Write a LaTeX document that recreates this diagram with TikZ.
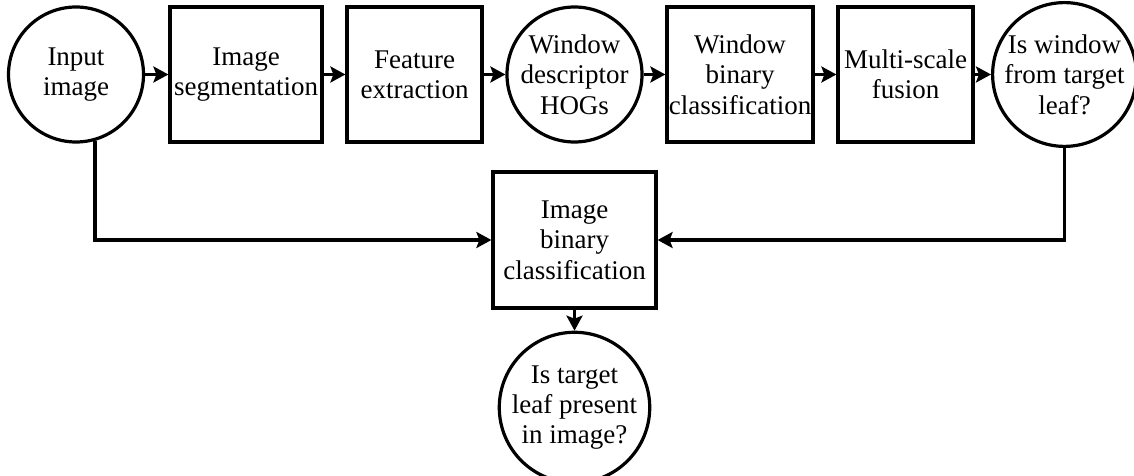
\documentclass[tikz,border=0pt]{standalone}
\usepackage{fontspec}
\setmainfont{Liberation Serif}
\usetikzlibrary{arrows.meta}

\begin{document}
\begin{tikzpicture}[x=0.5pt,y=-0.5pt,line width=1.6pt,
		every node/.style={font=\fontsize{13.5pt}{15.2pt}\selectfont,align=center,inner sep=0pt},
		stage/.style={draw,rectangle,minimum height=67.5pt},
		query/.style={draw,circle,minimum size=67.5pt},
		flow/.style={-{Stealth[length=7.5pt,width=8pt,inset=1.5pt]}}]
		
		\useasboundingbox (0,0) rectangle (1134,476);
		
		% top row
		\node[query] (inp) at (76,74.5) {Input\\image};
		\node[stage,minimum width=76pt] (seg) at (246,74.5) {Image\\segmentation};
		\node[stage,minimum width=67.5pt] (feat) at (414.5,74.5) {Feature\\extraction};
		\node[query] (desc) at (574.5,74.5) {Window\\descriptor\\HOGs};
		\node[stage,minimum width=73pt] (wbin) at (740,74.5) {Window\\binary\\classification};
		\node[stage,minimum width=67.5pt] (fus) at (905.5,74.5) {Multi-scale\\fusion};
		\node[query] (win) at (1064.5,74.5) {Is window\\from target\\leaf?};
		
		% bottom part
		\node[stage,minimum width=81.5pt,minimum height=68pt] (ibin) at (574.5,240) {Image\\binary\\classification};
		\node[query,minimum size=66.5pt] (pres) at (574.5,407.5) {Is target\\leaf present\\in image?};
		
		% connectors
		\draw[flow] (inp) -- (seg);
		\draw[flow] (seg) -- (feat);
		\draw[flow] (feat) -- (desc);
		\draw[flow] (desc) -- (wbin);
		\draw[flow] (wbin) -- (fus);
		\draw[flow] (fus) -- (win);
		\draw[flow] (inp.-74.5) |- (ibin.west);
		\draw[flow] (win.south) |- (ibin.east);
		\draw[flow] (ibin) -- (pres);
	\end{tikzpicture}
\end{document}
